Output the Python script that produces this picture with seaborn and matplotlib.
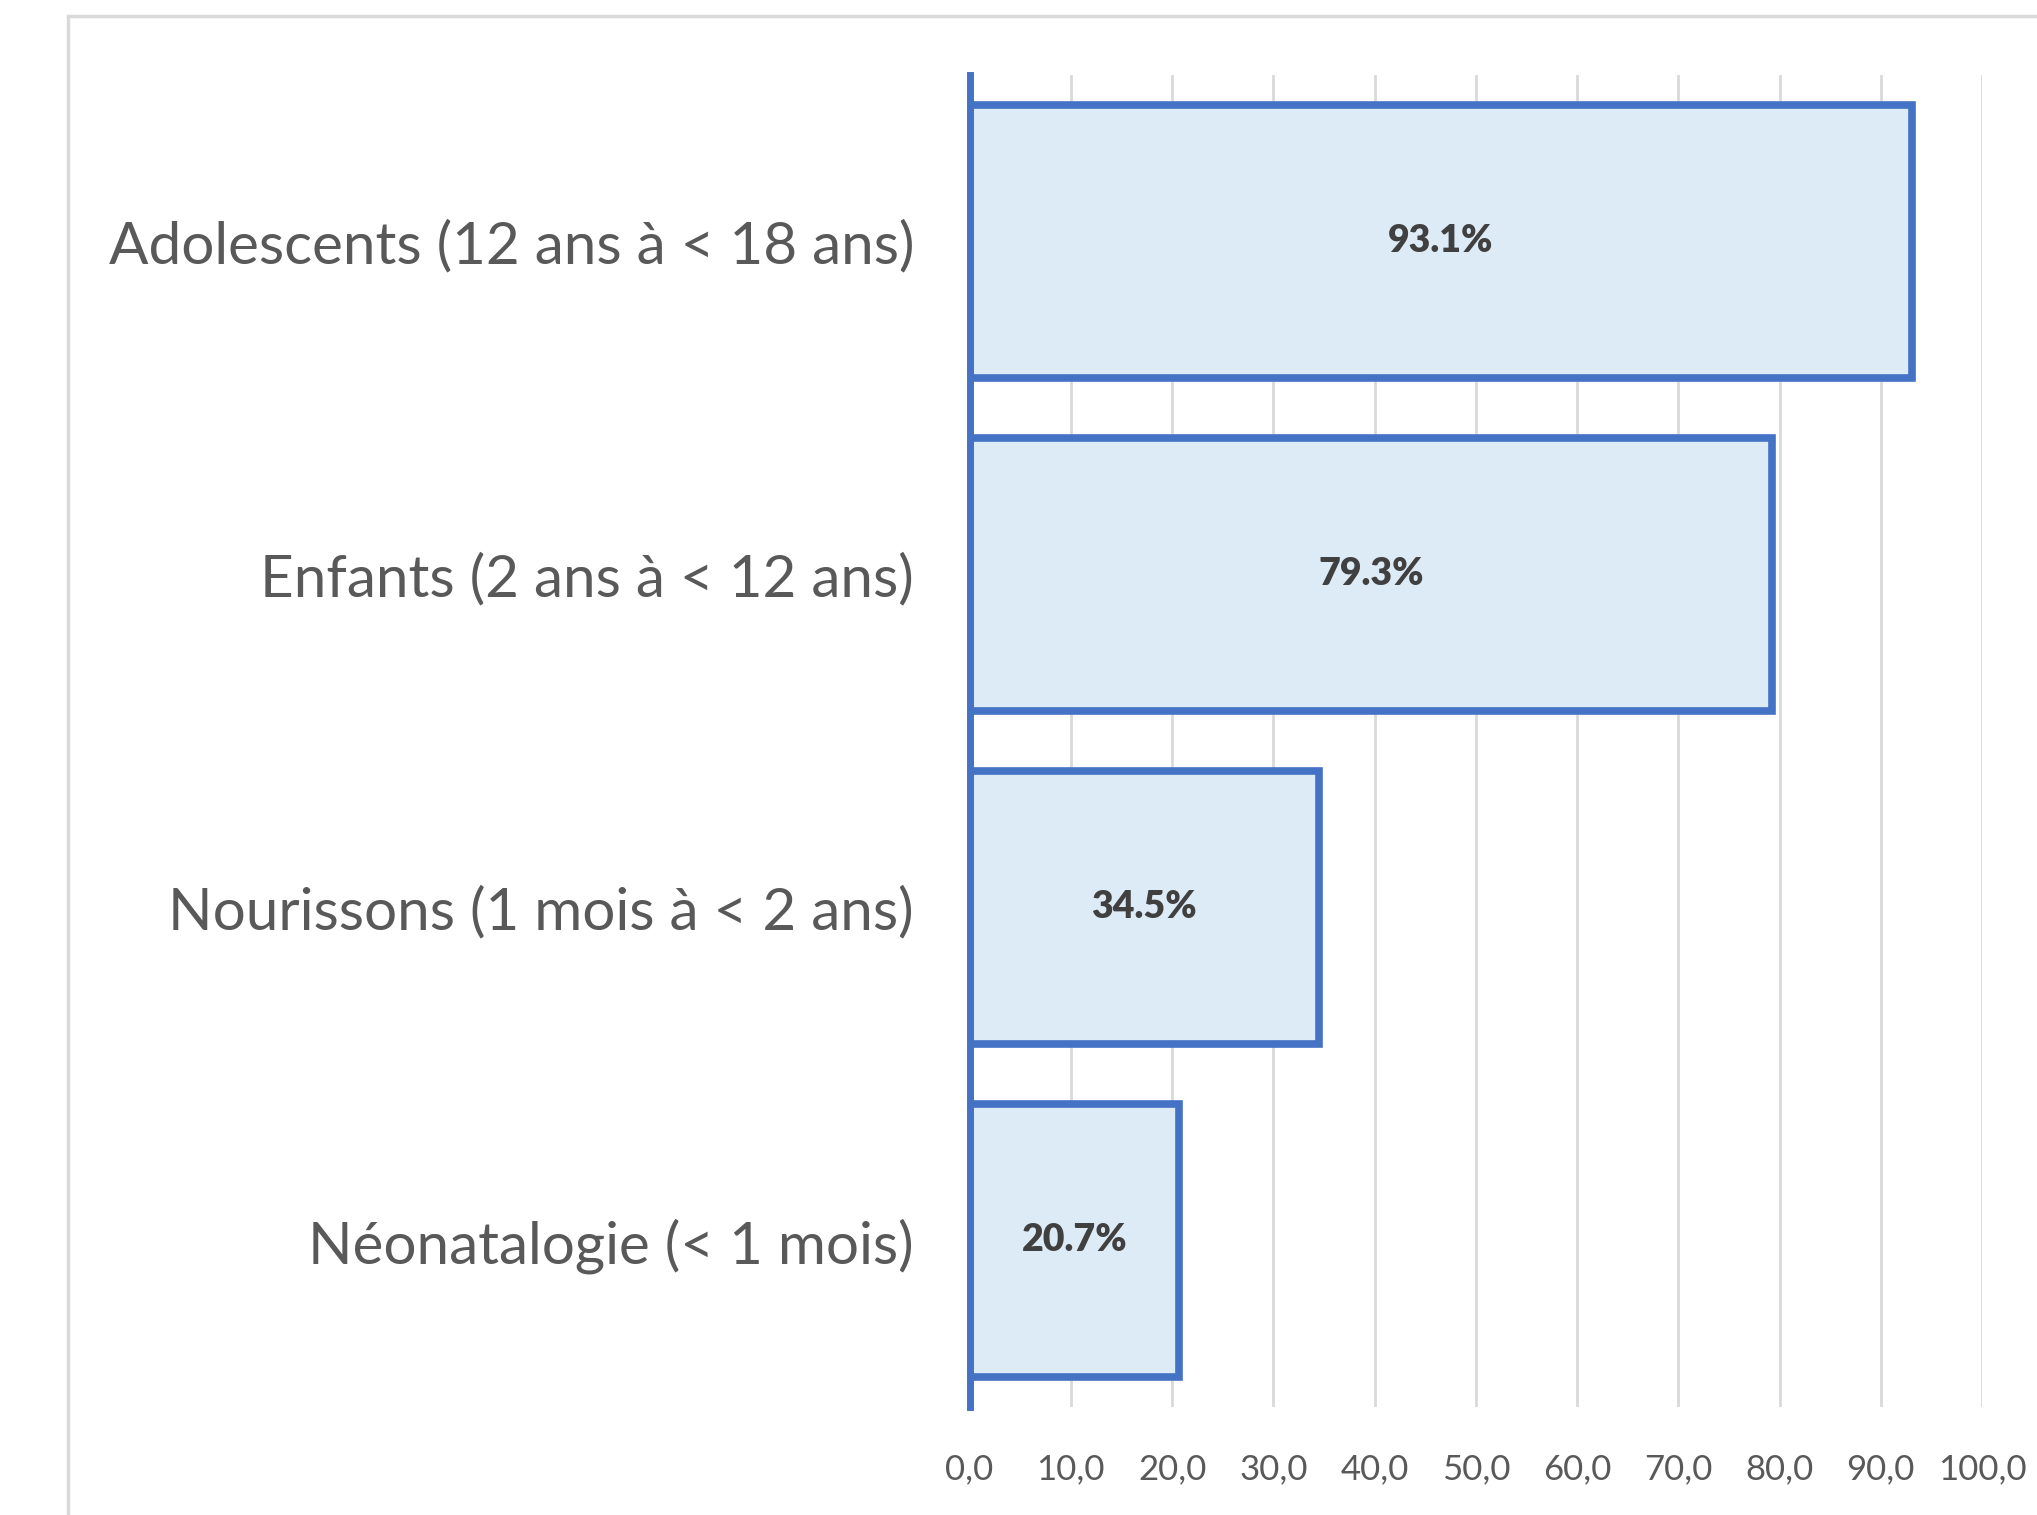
import matplotlib
matplotlib.use("Agg")
import matplotlib.pyplot as plt
import seaborn as sns
import pandas as pd
from matplotlib.patches import Rectangle

categories = [
    "Adolescents (12 ans à < 18 ans)",
    "Enfants (2 ans à < 12 ans)",
    "Nourissons (1 mois à < 2 ans)",
    "Néonatalogie (< 1 mois)",
]
values = [93.1, 79.3, 34.5, 20.7]
x_ticks = [0, 10, 20, 30, 40, 50, 60, 70, 80, 90, 100]
x_tick_labels = ["0,0", "10,0", "20,0", "30,0", "40,0", "50,0",
                 "60,0", "70,0", "80,0", "90,0", "100,0"]

sns.set_theme(style="white")
plt.rcParams["font.family"] = ["Lato", "DejaVu Sans"]

df = pd.DataFrame({"categorie": categories, "pct": values})

fig = plt.figure(figsize=(20.37, 15.15), dpi=100)
fig.patch.set_facecolor("white")

# light grey outer frame of the chart area
fig.add_artist(Rectangle((0.0334, -0.05), 1.2, 0.9894 + 0.05,
                         transform=fig.transFigure, fill=False,
                         edgecolor="#D9D9D9", linewidth=2.5, zorder=0))

ax = fig.add_axes([0.476, 0.0713, 0.973 - 0.476, 0.9505 - 0.0713])
ax.set_facecolor("none")

sns.barplot(data=df, y="categorie", x="pct", orient="h", ax=ax,
            color="#DDEBF7", edgecolor="#4472C4", linewidth=5.5,
            width=0.82, saturation=1)

ax.set_xlim(0, 100)
ax.set_ylim(3.5, -0.5)
ax.set_xticks(x_ticks)
ax.set_xticklabels(x_tick_labels)
ax.set_xlabel("")
ax.set_ylabel("")

ax.set_axisbelow(True)
ax.grid(axis="x", color="#D9D9D9", linewidth=2.0)
ax.grid(axis="y", visible=False)

for side in ["top", "right", "bottom"]:
    ax.spines[side].set_visible(False)
ax.spines["left"].set_color("#4472C4")
ax.spines["left"].set_linewidth(5)
ax.spines["left"].set_zorder(5)

ax.tick_params(axis="x", length=0, pad=33, labelsize=25, labelcolor="#595959")
ax.tick_params(axis="y", length=0, pad=40, labelsize=42, labelcolor="#595959")

for cont in ax.containers:
    ax.bar_label(cont, labels=[f"{v:.1f}%" for v in values],
                 label_type="center", fontsize=27, fontweight="heavy",
                 color="#404040")

fig.savefig("out.png", dpi=100, facecolor="white")
